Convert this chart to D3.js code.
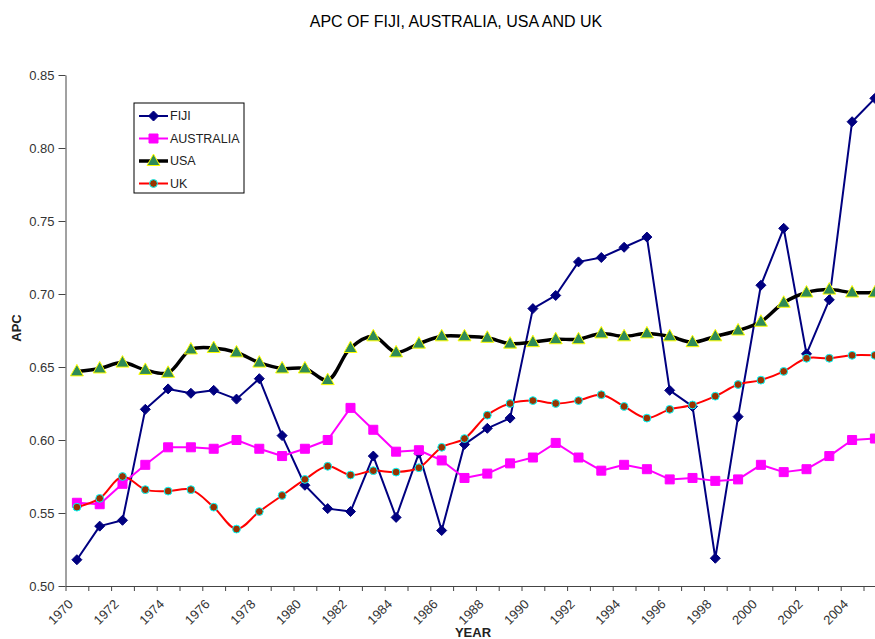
<!DOCTYPE html>
<html>
<head>
<meta charset="utf-8">
<script src="https://cdn.jsdelivr.net/npm/d3@7"></script>
<style>
  body { margin: 0; background: #fff; }
  svg { font-family: "Liberation Sans", Arial, sans-serif; display: block; }
</style>
</head>
<body>
<div id="viz"></div>
<script>
// years 1970..2005, one value per year
var years = [1970, 1971, 1972, 1973, 1974, 1975, 1976, 1977, 1978, 1979,
             1980, 1981, 1982, 1983, 1984, 1985, 1986, 1987, 1988, 1989,
             1990, 1991, 1992, 1993, 1994, 1995, 1996, 1997, 1998, 1999,
             2000, 2001, 2002, 2003, 2004, 2005];

var fiji = [0.518, 0.541, 0.545, 0.621, 0.635, 0.632, 0.634, 0.628, 0.642, 0.603,
            0.569, 0.553, 0.551, 0.589, 0.547, 0.591, 0.538, 0.597, 0.608, 0.615,
            0.690, 0.699, 0.722, 0.725, 0.732, 0.739, 0.634, 0.623, 0.519, 0.616,
            0.706, 0.745, 0.659, 0.696, 0.818, 0.834];

var australia = [0.557, 0.556, 0.570, 0.583, 0.595, 0.595, 0.594, 0.600, 0.594, 0.589,
                 0.594, 0.600, 0.622, 0.607, 0.592, 0.593, 0.586, 0.574, 0.577, 0.584,
                 0.588, 0.598, 0.588, 0.579, 0.583, 0.580, 0.573, 0.574, 0.572, 0.573,
                 0.583, 0.578, 0.580, 0.589, 0.600, 0.601];

var usa = [0.647, 0.649, 0.653, 0.648, 0.646, 0.662, 0.663, 0.660, 0.653, 0.649,
           0.649, 0.641, 0.663, 0.671, 0.660, 0.666, 0.671, 0.671, 0.670, 0.666,
           0.667, 0.669, 0.669, 0.673, 0.671, 0.673, 0.671, 0.667, 0.671, 0.675,
           0.681, 0.694, 0.701, 0.703, 0.701, 0.701];

var uk = [0.554, 0.560, 0.575, 0.566, 0.565, 0.566, 0.554, 0.539, 0.551, 0.562,
          0.573, 0.582, 0.576, 0.579, 0.578, 0.581, 0.595, 0.601, 0.617, 0.625,
          0.627, 0.625, 0.627, 0.631, 0.623, 0.615, 0.621, 0.624, 0.630, 0.638,
          0.641, 0.647, 0.656, 0.656, 0.658, 0.658];

var yTicks = [0.50, 0.55, 0.60, 0.65, 0.70, 0.75, 0.80, 0.85];

var width = 875,
    height = 639;
var plotLeft = 65.5, plotBottom = 586, plotTop = 75;
var bandW = 22.8;
var plotRight = plotLeft + bandW * years.length;

var series = [
  {name: 'FIJI', values: fiji, line: '#000080', lw: 2, marker: 'diamond', fill: '#000080', stroke: '#000080', smooth: false},
  {name: 'AUSTRALIA', values: australia, line: '#ff00ff', lw: 2, marker: 'square', fill: '#ff00ff', stroke: '#ff00ff', smooth: false},
  {name: 'USA', values: usa, line: '#000000', lw: 3.5, marker: 'triangle', fill: '#2e8b57', stroke: '#ffff00', smooth: true},
  {name: 'UK', values: uk, line: '#ff0000', lw: 2, marker: 'circle', fill: '#993300', stroke: '#00ffff', smooth: true}
];

var svg = d3.select('#viz')
  .append('svg')
    .attr('width', width)
    .attr('height', height);

var x = d3.scaleBand()
    .domain(years)
    .range([plotLeft, plotRight])
    .padding(0);

var y = d3.scaleLinear()
    .domain([0.5, 0.85])
    .range([plotBottom, plotTop]);

function cx(yr) { return x(yr) + x.bandwidth() / 2; }

// title
svg.append('text')
    .attr('x', 456)
    .attr('y', 27)
    .attr('text-anchor', 'middle')
    .style('font-size', '16px')
    .style('fill', '#000')
    .text('APC OF FIJI, AUSTRALIA, USA AND UK');

// y axis
var yAxis = d3.axisLeft(y)
    .tickValues(yTicks)
    .tickFormat(d3.format('.2f'))
    .tickSize(7)
    .tickSizeOuter(0);

var gy = svg.append('g')
    .attr('transform', 'translate(' + plotLeft + ',0)')
    .call(yAxis);
gy.select('.domain').attr('stroke', '#444');
gy.selectAll('.tick line').attr('stroke', '#444');
gy.selectAll('.tick text')
    .attr('x', -11)
    .style('font-size', '13px')
    .style('fill', '#333')
    .style('font-family', '"Liberation Sans", Arial, sans-serif');

// x axis: ticks at category boundaries, labels every other year
var xAxis = d3.axisBottom(x)
    .tickSize(5)
    .tickSizeOuter(0)
    .tickFormat('');

var gx = svg.append('g')
    .attr('transform', 'translate(0,' + plotBottom + ')')
    .call(xAxis);
gx.select('.domain').attr('stroke', '#444');
gx.selectAll('.tick')
    .attr('transform', function(d) { return 'translate(' + (x(d) + 0.5) + ',0)'; });
gx.selectAll('.tick line').attr('stroke', '#444');
gx.append('line')
    .attr('x1', plotRight).attr('x2', plotRight)
    .attr('y1', 0).attr('y2', 5)
    .attr('stroke', '#444');

svg.append('g')
  .selectAll('text')
  .data(years.filter(function(d, i) { return i % 2 === 0; }))
  .enter()
  .append('text')
    .attr('transform', function(d) { return 'translate(' + (cx(d) - 3) + ',' + (plotBottom + 19) + ') rotate(-45)'; })
    .attr('text-anchor', 'end')
    .style('font-size', '13px')
    .style('fill', '#333')
    .text(function(d) { return d; });

// axis titles
svg.append('text')
    .attr('transform', 'translate(21,328) rotate(-90)')
    .attr('text-anchor', 'middle')
    .style('font-size', '13px')
    .style('font-weight', 'bold')
    .style('fill', '#222')
    .text('APC');

svg.append('text')
    .attr('x', 473)
    .attr('y', 637)
    .attr('text-anchor', 'middle')
    .style('font-size', '13px')
    .style('font-weight', 'bold')
    .style('fill', '#222')
    .text('YEAR');

function markerPath(type) {
  if (type === 'diamond') return 'M0,-5L5,0L0,5L-5,0Z';
  if (type === 'square') return 'M-4.5,-4.5H4.5V4.5H-4.5Z';
  if (type === 'triangle') return 'M0,-7L6.5,4.5H-6.5Z';
  return d3.symbol().type(d3.symbolCircle).size(48)();
}

var plot = svg.append('g');

series.forEach(function(s) {
  var line = d3.line()
      .x(function(d, i) { return cx(years[i]); })
      .y(function(d) { return y(d); })
      .curve(s.smooth ? d3.curveCatmullRom.alpha(0.5) : d3.curveLinear);

  plot.append('path')
      .datum(s.values)
      .attr('d', line)
      .attr('fill', 'none')
      .attr('stroke', s.line)
      .attr('stroke-width', s.lw)
      .attr('stroke-linejoin', 'round');

  plot.append('g')
    .selectAll('path')
    .data(s.values)
    .enter()
    .append('path')
      .attr('transform', function(d, i) { return 'translate(' + cx(years[i]) + ',' + y(d) + ')'; })
      .attr('d', markerPath(s.marker))
      .attr('fill', s.fill)
      .attr('stroke', s.stroke)
      .attr('stroke-width', 1);
});

// legend
var legend = svg.append('g').attr('transform', 'translate(134,103)');
legend.append('rect')
    .attr('width', 110)
    .attr('height', 90)
    .attr('fill', '#fff')
    .attr('stroke', '#000')
    .attr('stroke-width', 1);

var items = legend.selectAll('g.item')
  .data(series)
  .enter()
  .append('g')
    .attr('class', 'item')
    .attr('transform', function(d, i) { return 'translate(0,' + (13 + i * 22.5) + ')'; });

items.append('line')
    .attr('x1', 5).attr('x2', 34)
    .attr('stroke', function(d) { return d.line; })
    .attr('stroke-width', function(d) { return d.lw; });

items.append('path')
    .attr('transform', 'translate(19.5,0)')
    .attr('d', function(d) { return markerPath(d.marker); })
    .attr('fill', function(d) { return d.fill; })
    .attr('stroke', function(d) { return d.stroke; })
    .attr('stroke-width', 1);

items.append('text')
    .attr('x', 36)
    .attr('dy', '0.35em')
    .style('font-size', '12.5px')
    .style('fill', '#222')
    .text(function(d) { return d.name; });
</script>
</body>
</html>
